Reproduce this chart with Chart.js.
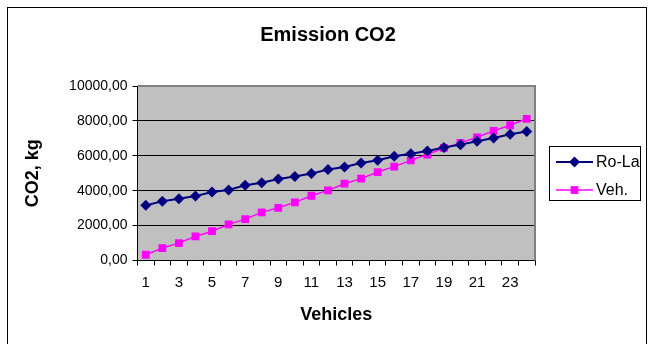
<!DOCTYPE html>
<html>
<head>
<meta charset="utf-8">
<script src="https://cdn.jsdelivr.net/npm/chart.js@4"></script>
<style>
  html, body { margin: 0; padding: 0; background: #fff; }
  #wrap { width: 648px; height: 344px; }
</style>
</head>
<body>
<div id="wrap"><canvas id="co2Chart" width="648" height="344"></canvas></div>
<script>
const vehicles = ['1','2','3','4','5','6','7','8','9','10','11','12','13','14','15','16','17','18','19','20','21','22','23','24'];
const rola = [3160, 3390, 3540, 3690, 3920, 4040, 4310, 4460, 4670, 4820, 4980, 5210,
              5360, 5590, 5740, 5970, 6120, 6280, 6470, 6640, 6830, 7020, 7230, 7390];
const veh = [330, 710, 1000, 1380, 1680, 2070, 2370, 2760, 3020, 3330, 3710, 4020,
             4400, 4690, 5070, 5380, 5740, 6070, 6450, 6740, 7060, 7430, 7750, 8120];
const yTicks = [0, 2000, 4000, 6000, 8000, 10000];

const FONT = "'Liberation Sans', Arial, sans-serif";

// plot background, outer frame and excel style legend
const frame = {
  id: 'frame',
  beforeDraw(chart) {
    const {ctx, chartArea: a} = chart;
    ctx.save();
    ctx.strokeStyle = '#000';
    ctx.lineWidth = 1;
    ctx.strokeRect(7.5, 7.5, 639, 400);
    ctx.fillStyle = '#c0c0c0';
    ctx.fillRect(a.left, a.top, a.right - a.left, a.bottom - a.top);
    ctx.restore();
  },
  beforeDatasetsDraw(chart) {
    const {ctx, chartArea: a} = chart;
    ctx.save();
    ctx.strokeStyle = '#808080';
    ctx.lineWidth = 2;
    ctx.beginPath();
    ctx.moveTo(a.left, a.top);
    ctx.lineTo(a.right, a.top);
    ctx.lineTo(a.right, a.bottom);
    ctx.stroke();
    ctx.restore();
  },
  afterDraw(chart) {
    const ctx = chart.ctx;
    ctx.save();
    ctx.strokeStyle = '#000';
    ctx.lineWidth = 1;
    ctx.strokeRect(549.5, 146.5, 91, 54);
    chart.data.datasets.forEach((ds, i) => {
      const y = 162 + i * 28;
      ctx.strokeStyle = ds.borderColor;
      ctx.lineWidth = ds.borderWidth;
      ctx.beginPath();
      ctx.moveTo(556, y);
      ctx.lineTo(593, y);
      ctx.stroke();
      ctx.fillStyle = ds.pointBackgroundColor;
      Chart.helpers.drawPoint(ctx, {pointStyle: ds.pointStyle, radius: ds.pointRadius, borderWidth: 0}, 574.5, y);
      ctx.fillStyle = '#000';
      ctx.font = '16px ' + FONT;
      ctx.textBaseline = 'middle';
      ctx.fillText(ds.label, 596, y + 1);
    });
    ctx.restore();
  }
};

new Chart(document.getElementById('co2Chart'), {
  type: 'line',
  plugins: [frame],
  data: {
    labels: vehicles,
    datasets: [
      {
        label: 'Ro-La',
        data: rola,
        borderColor: '#000080',
        backgroundColor: '#000080',
        pointBackgroundColor: '#000080',
        pointBorderColor: '#000080',
        borderWidth: 2,
        pointStyle: 'rectRot',
        pointRadius: 5.5,
        pointBorderWidth: 0
      },
      {
        label: 'Veh.',
        data: veh,
        borderColor: '#ff00ff',
        backgroundColor: '#ff00ff',
        pointBackgroundColor: '#ff00ff',
        pointBorderColor: '#ff00ff',
        borderWidth: 1.5,
        pointStyle: 'rect',
        pointRadius: 5.5,
        pointBorderWidth: 0
      }
    ]
  },
  options: {
    responsive: false,
    animation: false,
    layout: { padding: { left: 8, right: 0, top: 0, bottom: 0 } },
    plugins: {
      legend: { display: false },
      tooltip: { enabled: false },
      title: {
        display: true,
        text: 'Emission CO2',
        color: '#000',
        font: { family: FONT, size: 20, weight: 'bold' },
        padding: { top: 23.5, bottom: 38.5 }
      }
    },
    scales: {
      x: {
        offset: true,
        afterFit: s => { s.height = 83.5; },
        grid: { offset: true, drawOnChartArea: false, drawTicks: true, tickLength: 5, color: '#000' },
        border: { color: '#000', width: 1 },
        ticks: {
          autoSkip: false,
          maxRotation: 0,
          padding: 8,
          color: '#000',
          font: { family: FONT, size: 15 },
          callback: (v, i) => (i % 2 === 0 ? vehicles[i] : '')
        },
        title: {
          display: true,
          text: 'Vehicles',
          color: '#000',
          font: { family: FONT, size: 18, weight: 'bold' },
          padding: 18
        }
      },
      y: {
        min: 0,
        max: 10000,
        afterFit: s => { s.width = 129.5; },
        afterBuildTicks: s => { s.ticks = yTicks.map(v => ({value: v})); },
        grid: { color: '#000', tickLength: 5 },
        border: { color: '#000', width: 1 },
        ticks: {
          padding: 5,
          color: '#000',
          font: { family: FONT, size: 14 },
          callback: v => v.toFixed(2).replace('.', ',')
        },
        title: {
          display: true,
          text: 'CO2, kg',
          color: '#000',
          font: { family: FONT, size: 18, weight: 'bold' },
          padding: 14
        }
      },
      // empty right axis that only reserves room for the legend
      yRight: {
        position: 'right',
        min: 0,
        max: 10000,
        afterFit: s => { s.width = 113; },
        grid: { display: false },
        border: { display: false },
        ticks: { display: false }
      }
    }
  }
});
</script>
</body>
</html>
